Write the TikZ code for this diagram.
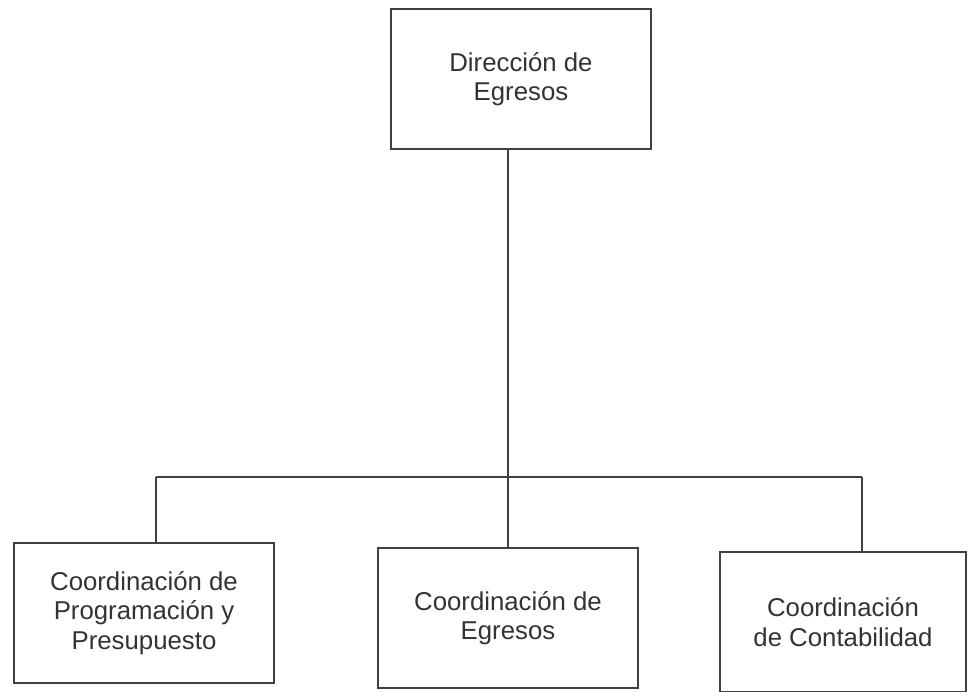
\documentclass[tikz,border=0pt]{standalone}
\usepackage{fontspec}
\setmainfont{Liberation Sans}
\tikzset{>=latex}
\tikzset{
  unitbox/.style={draw=black!75,line width=0.8pt,minimum width=3.9cm,minimum height=2.1cm,
    align=center,font=\fontsize{11}{12.5}\selectfont,text=black!80},
  link/.style={draw=black!75,line width=0.8pt}
}

\begin{document}
\begin{tikzpicture}[x=0.015cm,y=-0.015cm]
        \useasboundingbox (0,0) rectangle (969,692);
        \coordinate (bus) at (508,477);
        \coordinate (busl) at (156,477);
        \coordinate (busr) at (862,477);

        \node[unitbox] (dir) at (521,79) {Dirección de\\Egresos};
        \node[unitbox] (cpp) at (144,613) {Coordinación de\\Programación y\\Presupuesto};
        \node[unitbox] (ceg) at (508,618) {Coordinación de\\Egresos};
        \node[unitbox,minimum width=3.69cm] (ccn) at (843,622) {Coordinación\\de Contabilidad};

        \draw[link] (dir.south -| bus) -- (ceg.north);
        \draw[link] (busl) -- (busr);
        \draw[link] (busl) -- (busl |- cpp.north);
        \draw[link] (busr) -- (busr |- ccn.north);
    \end{tikzpicture}
\end{document}
